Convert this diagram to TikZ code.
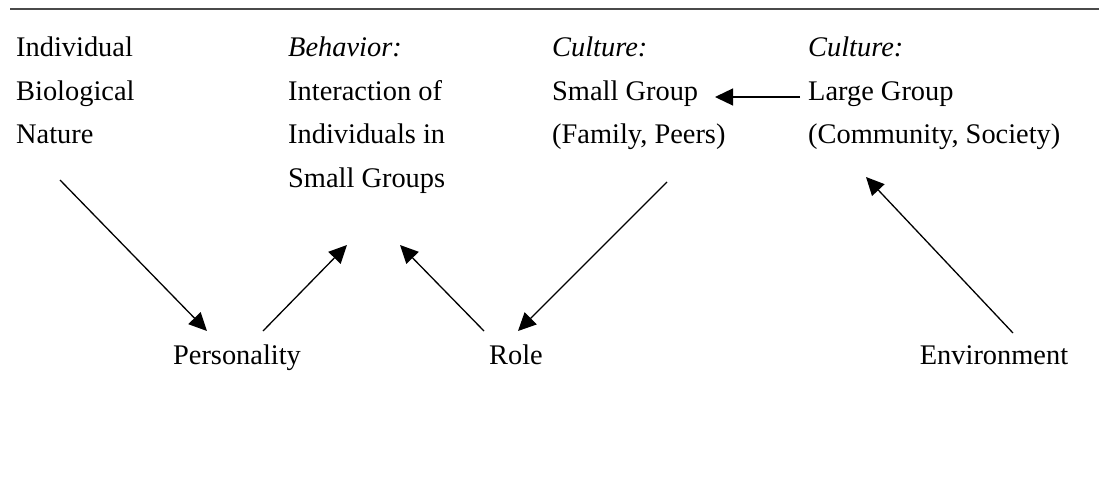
\documentclass[tikz,border=0pt]{standalone}
\usepackage{fontspec}
\setmainfont{Liberation Serif}
\usepackage{xcolor}
\usepackage{tikz}
\usetikzlibrary{arrows.meta,positioning}
\definecolor{rulecolor}{RGB}{74,74,74}

\begin{document}
\begin{tikzpicture}[
        x=1pt, y=-1pt,
        colnode/.style={anchor=north west, inner sep=0pt, align=left, font=\fontsize{28.4}{43.5}\selectfont},
        basenode/.style={anchor=north, inner sep=0pt, font=\fontsize{28.4}{43.5}\selectfont},
        arr/.style={-{Triangle[length=18pt,width=17pt]}, line width=1.3pt}
    ]
        \useasboundingbox (0,0) rectangle (1104,490);
        \draw[rulecolor, line width=2pt] (10,9) -- (1099,9);

        % upper row
        \node[colnode] (bio) at (16,37) {Individual\\Biological\\Nature};
        \node[colnode] (beh) at (288,37) {\textit{Behavior:}\\Interaction of\\Individuals in\\Small Groups};
        \node[colnode] (sg) at (552,37) {\textit{Culture:}\\Small Group\\(Family, Peers)};
        \node[colnode] (lg) at (808,37) {\textit{Culture:}\\Large Group\\(Community, Society)};

        % lower row
        \node[basenode] (pers) at (237,345) {Personality};
        \node[basenode] (role) at (516,345) {Role};
        \node[basenode] (env) at (994,345) {Environment};

        % free ends
        \coordinate (natout) at (60,180);
        \coordinate (behin1) at (347,245);
        \coordinate (behin2) at (400,245);
        \coordinate (sgout) at (667,182);
        \coordinate (lgin) at (866,177);
        \coordinate (lgleft) at (800,97);
        \coordinate (sgright) at (715,97);

        \draw[arr] (natout) -- ([xshift=-30pt,yshift=14pt]pers.north);
        \draw[arr] ([xshift=26pt,yshift=14pt]pers.north) -- (behin1);
        \draw[arr] ([xshift=-32pt,yshift=14pt]role.north) -- (behin2);
        \draw[arr] (sgout) -- ([xshift=2pt,yshift=14pt]role.north);
        \draw[arr] ([xshift=19pt,yshift=12pt]env.north) -- (lgin);
        \draw[arr] (lgleft) -- (sgright);
    \end{tikzpicture}
\end{document}
